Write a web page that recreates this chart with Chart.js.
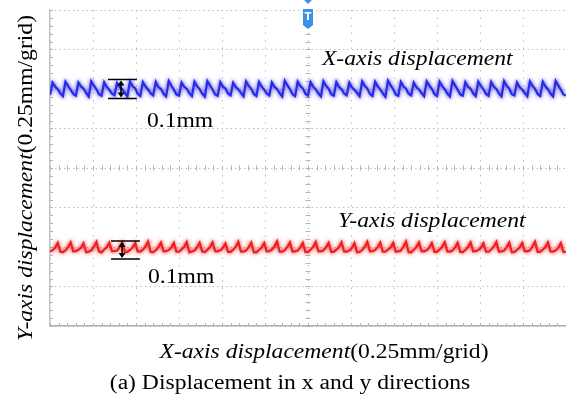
<!DOCTYPE html>
<html lang="en">
<head>
  <meta charset="UTF-8">
  <title>Displacement in x and y directions</title>
  <script src="https://cdn.jsdelivr.net/npm/chart.js"></script>
  <style>
    body { margin: 0; background: #fff; }
    .chart-box { width: 566px; height: 398px; }
  </style>
</head>
<body>
  <div class="chart-box"><canvas id="scopeChart" width="566" height="398"></canvas></div>

  <script>
    // scope screen: 0.25 mm per grid, 12 x 8 grids
    const xRange = [0, 3];
    const yRange = [-1, 1];
    const gridStep = 0.25;
    const sampleStep = 0.015; // mm between samples

    // X-axis displacement trace (mm)
    const xTrace = [
      0.462, 0.540, 0.515, 0.499, 0.472,  0.455, 0.546, 0.520, 0.496, 0.468,
      0.458, 0.542, 0.516, 0.503, 0.475,  0.452, 0.549, 0.521, 0.498, 0.467,
      0.457, 0.543, 0.513, 0.495, 0.471,  0.461, 0.538, 0.511, 0.500, 0.476,
      0.454, 0.547, 0.519, 0.504, 0.469,  0.456, 0.544, 0.517, 0.497, 0.473,
      0.459, 0.545, 0.512, 0.501, 0.470,  0.453, 0.551, 0.522, 0.496, 0.466,
      0.458, 0.541, 0.514, 0.502, 0.474,  0.455, 0.546, 0.518, 0.499, 0.470,
      0.451, 0.550, 0.523, 0.497, 0.465,  0.457, 0.544, 0.515, 0.503, 0.472,
      0.460, 0.539, 0.512, 0.498, 0.475,  0.454, 0.548, 0.520, 0.501, 0.468,
      0.456, 0.545, 0.516, 0.496, 0.471,  0.459, 0.542, 0.513, 0.500, 0.474,
      0.452, 0.552, 0.524, 0.499, 0.466,  0.455, 0.547, 0.519, 0.504, 0.470,
      0.458, 0.543, 0.515, 0.497, 0.473,  0.453, 0.549, 0.521, 0.502, 0.467,
      0.457, 0.544, 0.514, 0.499, 0.471,  0.460, 0.540, 0.511, 0.495, 0.476,
      0.454, 0.548, 0.520, 0.503, 0.469,  0.456, 0.546, 0.517, 0.498, 0.472,
      0.451, 0.553, 0.525, 0.500, 0.465,  0.457, 0.545, 0.516, 0.502, 0.470,
      0.459, 0.541, 0.513, 0.497, 0.474,  0.454, 0.549, 0.522, 0.501, 0.468,
      0.456, 0.546, 0.518, 0.499, 0.471,  0.452, 0.551, 0.523, 0.496, 0.466,
      0.458, 0.543, 0.514, 0.503, 0.473,  0.455, 0.547, 0.519, 0.498, 0.469,
      0.457, 0.545, 0.516, 0.500, 0.472,  0.453, 0.550, 0.521, 0.502, 0.467,
      0.459, 0.542, 0.512, 0.497, 0.475,  0.454, 0.548, 0.520, 0.501, 0.468,
      0.456, 0.546, 0.517, 0.499, 0.471,  0.452, 0.551, 0.523, 0.496, 0.466,
      0.458
    ];

    // Y-axis displacement trace (mm)
    const yTrace = [
      -0.528, -0.520, -0.503, -0.474, -0.530,  -0.532, -0.522, -0.500, -0.470, -0.527,
      -0.526, -0.518, -0.505, -0.476, -0.533,  -0.530, -0.521, -0.498, -0.468, -0.529,
      -0.534, -0.516, -0.502, -0.473, -0.526,  -0.527, -0.523, -0.499, -0.471, -0.531,
      -0.531, -0.519, -0.504, -0.475, -0.528,  -0.529, -0.517, -0.497, -0.466, -0.532,
      -0.533, -0.521, -0.501, -0.472, -0.527,  -0.526, -0.520, -0.503, -0.474, -0.530,
      -0.530, -0.515, -0.499, -0.469, -0.534,  -0.528, -0.522, -0.502, -0.473, -0.529,
      -0.532, -0.518, -0.500, -0.470, -0.526,  -0.527, -0.521, -0.505, -0.477, -0.531,
      -0.531, -0.517, -0.498, -0.467, -0.528,  -0.529, -0.523, -0.501, -0.472, -0.533,
      -0.534, -0.519, -0.503, -0.475, -0.527,  -0.526, -0.516, -0.497, -0.465, -0.530,
      -0.530, -0.520, -0.500, -0.471, -0.529,  -0.528, -0.522, -0.504, -0.474, -0.532,
      -0.533, -0.518, -0.499, -0.468, -0.526,  -0.527, -0.521, -0.502, -0.473, -0.531,
      -0.531, -0.517, -0.500, -0.470, -0.528,  -0.529, -0.523, -0.505, -0.476, -0.534,
      -0.532, -0.519, -0.498, -0.467, -0.527,  -0.526, -0.520, -0.501, -0.472, -0.530,
      -0.530, -0.516, -0.503, -0.474, -0.529,  -0.528, -0.522, -0.497, -0.466, -0.533,
      -0.534, -0.518, -0.500, -0.471, -0.526,  -0.527, -0.521, -0.504, -0.475, -0.531,
      -0.531, -0.517, -0.499, -0.469, -0.528,  -0.529, -0.523, -0.502, -0.473, -0.532,
      -0.533, -0.519, -0.500, -0.470, -0.527,  -0.526, -0.520, -0.505, -0.476, -0.530,
      -0.530, -0.516, -0.498, -0.468, -0.529,  -0.528, -0.522, -0.501, -0.472, -0.534,
      -0.532, -0.518, -0.503, -0.474, -0.526,  -0.527, -0.521, -0.497, -0.467, -0.531,
      -0.531, -0.517, -0.500, -0.471, -0.528,  -0.529, -0.523, -0.504, -0.475, -0.532,
      -0.530
    ];

    // text labels placed in data units (mm)
    const notes = [
      { text: 'X-axis displacement', x: 1.581, y: 0.652, italic: true },
      { text: 'Y-axis displacement', x: 1.674, y: -0.373, italic: true },
      { text: '0.1mm', x: 0.564, y: 0.259, italic: false },
      { text: '0.1mm', x: 0.570, y: -0.728, italic: false }
    ];
    // 0.1 mm span markers
    const spans = [
      { x0: 0.337, x1: 0.505, xa: 0.413, y0: 0.440, y1: 0.560 },
      { x0: 0.355, x1: 0.523, xa: 0.419, y0: -0.576, y1: -0.462 }
    ];
    const triggerAt = 1.5;

    const SERIF = '"Liberation Serif", "Times New Roman", serif';
    const STRETCH = 1.18;

    function toPoints(trace) {
      return trace.map((v, i) => ({ x: i * sampleStep, y: v }));
    }

    // draws text made of italic/normal pieces, slightly widened like the scan
    function drawText(ctx, parts, x, y, align, rotate) {
      ctx.save();
      ctx.translate(x, y);
      if (rotate) ctx.rotate(-Math.PI / 2);
      ctx.scale(STRETCH, 1);
      ctx.textAlign = 'left';
      ctx.textBaseline = 'alphabetic';
      ctx.fillStyle = '#000';
      let total = 0;
      parts.forEach(p => { ctx.font = p.font; total += ctx.measureText(p.text).width; });
      let cx = align === 'center' ? -total / 2 : 0;
      parts.forEach(p => {
        ctx.font = p.font;
        ctx.fillText(p.text, cx, 0);
        cx += ctx.measureText(p.text).width;
      });
      ctx.restore();
    }

    const glow = {
      id: 'glow',
      beforeDatasetDraw(chart, args) {
        const ctx = chart.ctx;
        ctx.save();
        ctx.shadowColor = args.meta.dataset.options.borderColor;
        ctx.shadowBlur = 4;
      },
      afterDatasetDraw(chart) {
        chart.ctx.restore();
      }
    };

    const scopeDecor = {
      id: 'scopeDecor',
      beforeDatasetsDraw(chart) {
        const { ctx, chartArea: a, scales: { x, y } } = chart;
        const cx = x.getPixelForValue(triggerAt);
        const cy = y.getPixelForValue(0);
        ctx.save();
        ctx.strokeStyle = '#b4b4b4';
        ctx.lineWidth = 1;
        ctx.beginPath();
        // minor ticks on centre lines and frame
        for (let v = yRange[0]; v <= yRange[1] + 1e-9; v += 0.05) {
          const py = Math.round(y.getPixelForValue(v)) + 0.5;
          ctx.moveTo(cx - 2.5, py); ctx.lineTo(cx + 2.5, py);
          ctx.moveTo(a.left, py); ctx.lineTo(a.left + 3, py);
        }
        for (let v = xRange[0]; v <= xRange[1] + 1e-9; v += 0.05) {
          const px = Math.round(x.getPixelForValue(v)) + 0.5;
          ctx.moveTo(px, cy - 2.5); ctx.lineTo(px, cy + 2.5);
          ctx.moveTo(px, a.bottom); ctx.lineTo(px, a.bottom - 3);
        }
        ctx.stroke();
        ctx.restore();
      },
      afterDraw(chart) {
        const { ctx, chartArea: a, scales: { x, y } } = chart;

        // span markers with double arrows
        ctx.save();
        ctx.strokeStyle = '#000';
        ctx.fillStyle = '#000';
        ctx.lineWidth = 1.6;
        spans.forEach(s => {
          const l = x.getPixelForValue(s.x0), r = x.getPixelForValue(s.x1);
          const ax = x.getPixelForValue(s.xa);
          const top = y.getPixelForValue(s.y1), bot = y.getPixelForValue(s.y0);
          ctx.beginPath();
          ctx.moveTo(l, top); ctx.lineTo(r, top);
          ctx.moveTo(l, bot); ctx.lineTo(r, bot);
          ctx.moveTo(ax, top + 4); ctx.lineTo(ax, bot - 4);
          ctx.stroke();
          ctx.beginPath();
          ctx.moveTo(ax, top + 1); ctx.lineTo(ax - 3.5, top + 6); ctx.lineTo(ax + 3.5, top + 6); ctx.closePath();
          ctx.moveTo(ax, bot - 1); ctx.lineTo(ax - 3.5, bot - 6); ctx.lineTo(ax + 3.5, bot - 6); ctx.closePath();
          ctx.fill();
        });
        ctx.restore();

        // trigger marker
        const tx = x.getPixelForValue(triggerAt);
        ctx.save();
        ctx.fillStyle = '#3d8fe8';
        ctx.beginPath();
        ctx.moveTo(tx - 4, 0); ctx.lineTo(tx + 4, 0); ctx.lineTo(tx, 4); ctx.closePath();
        ctx.fill();
        ctx.beginPath();
        ctx.moveTo(tx - 5, a.top - 1);
        ctx.lineTo(tx + 5, a.top - 1);
        ctx.lineTo(tx + 5, a.top + 15);
        ctx.lineTo(tx, a.top + 19);
        ctx.lineTo(tx - 5, a.top + 15);
        ctx.closePath();
        ctx.fill();
        ctx.fillStyle = '#fff';
        ctx.font = 'bold 10px "DejaVu Sans", sans-serif';
        ctx.textAlign = 'center';
        ctx.textBaseline = 'middle';
        ctx.fillText('T', tx, a.top + 7);
        ctx.restore();

        // notes inside the screen
        const it = 'italic 20px ' + SERIF, rm = '20px ' + SERIF;
        notes.forEach(n => {
          drawText(ctx, [{ text: n.text, font: n.italic ? it : rm }],
            x.getPixelForValue(n.x), y.getPixelForValue(n.y), 'left', false);
        });

        // axis titles and caption
        const mid = (a.left + a.right) / 2;
        drawText(ctx, [{ text: 'X-axis displacement', font: it }, { text: '(0.25mm/grid)', font: rm }],
          mid + 16, a.bottom + 32, 'center', false);
        drawText(ctx, [{ text: 'Y-axis displacement', font: it }, { text: '(0.25mm/grid)', font: rm }],
          32, (a.top + a.bottom) / 2 + 10, 'center', true);
        drawText(ctx, [{ text: '(a) Displacement in x and y directions', font: rm }],
          mid - 18, a.bottom + 63, 'center', false);
      }
    };

    new Chart(document.getElementById('scopeChart').getContext('2d'), {
      type: 'line',
      data: {
        datasets: [
          { label: 'X-axis displacement', data: toPoints(xTrace), borderColor: '#2a2ae6', borderWidth: 2.2 },
          { label: 'Y-axis displacement', data: toPoints(yTrace), borderColor: '#f01e1e', borderWidth: 2.2 }
        ]
      },
      options: {
        responsive: false,
        animation: false,
        layout: { padding: { left: 50, top: 10, right: 0, bottom: 72 } },
        elements: { point: { radius: 0 }, line: { tension: 0 } },
        plugins: { legend: { display: false }, tooltip: { enabled: false } },
        scales: {
          x: {
            type: 'linear', min: xRange[0], max: xRange[1],
            ticks: { display: false, stepSize: gridStep },
            grid: { color: '#bdbdbd', drawTicks: false },
            border: { display: true, color: '#b0b0b0', width: 1.5, dash: [1.5, 6] }
          },
          y: {
            type: 'linear', min: yRange[0], max: yRange[1],
            ticks: { display: false, stepSize: gridStep },
            grid: { color: '#bdbdbd', drawTicks: false },
            border: { display: true, color: '#c4c4c4', width: 1.5, dash: [1.5, 3] }
          }
        }
      },
      plugins: [glow, scopeDecor]
    });
  </script>
</body>
</html>
